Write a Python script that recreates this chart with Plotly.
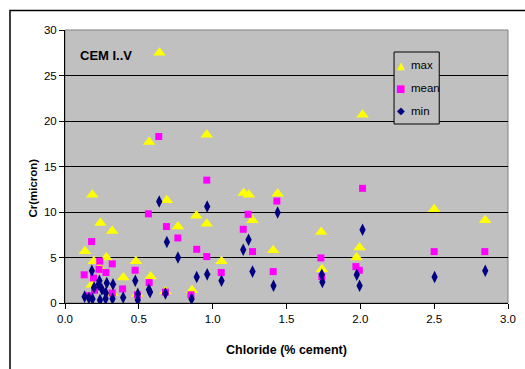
import plotly.graph_objects as go

# ---- data ----
max_x = [0.64, 0.57, 0.96, 2.015, 0.185, 0.24, 0.32, 0.135, 0.195, 0.28, 0.48, 0.395,
         0.69, 0.765, 0.89, 0.96, 1.06, 1.21, 1.245, 1.27, 0.58, 0.86, 0.235, 0.18,
         0.68, 1.44, 1.735, 1.41, 1.995, 1.975, 2.5, 2.845, 1.74, 0.49, 0.32]
max_y = [27.5, 17.7, 18.5, 20.7, 11.9, 8.8, 7.9, 5.7, 4.6, 5.0, 4.6, 2.8,
         11.3, 8.4, 9.6, 8.7, 4.6, 12.1, 11.9, 9.1, 2.9, 1.4, 3.9, 2.0,
         1.3, 12.0, 7.8, 5.8, 6.1, 5.0, 10.3, 9.1, 3.7, 1.0, 1.1]

mean_x = [0.635, 0.96, 2.015, 0.18, 0.565, 0.687, 0.764, 0.892, 0.96, 1.207, 1.24, 1.27,
          0.13, 0.235, 0.277, 0.32, 0.475, 0.39, 0.57, 0.68, 0.853, 1.058, 0.193, 0.49,
          0.32, 0.23, 0.155, 0.2, 1.435, 1.733, 1.41, 1.97, 1.993, 2.5, 2.843, 1.739]
mean_y = [18.3, 13.5, 12.6, 6.75, 9.8, 8.4, 7.15, 5.9, 5.1, 8.1, 9.75, 5.65,
          3.1, 4.6, 3.35, 4.3, 3.6, 1.55, 2.25, 1.2, 0.9, 3.35, 2.75, 0.9,
          1.1, 3.7, 0.8, 1.4, 11.2, 4.95, 3.45, 4.0, 3.6, 5.65, 5.65, 2.9]

min_x = [0.638, 0.963, 0.69, 0.765, 0.892, 0.963, 1.06, 1.207, 1.243, 1.27, 0.182, 0.233,
         0.283, 0.325, 0.197, 0.25, 0.476, 0.568, 0.576, 0.68, 0.394, 0.322, 0.133, 0.162,
         0.186, 0.237, 0.275, 0.493, 0.493, 0.857, 0.228, 0.277, 1.44, 2.015, 1.739, 1.743,
         1.976, 1.995, 1.412, 2.503, 2.846]
min_y = [11.15, 10.6, 6.7, 5.0, 2.85, 3.15, 2.45, 5.85, 6.95, 3.45, 3.55, 2.45,
         2.2, 2.05, 1.7, 1.5, 2.45, 1.45, 1.2, 1.05, 0.6, 0.47, 0.7, 0.55,
         0.45, 0.32, 0.47, 1.0, 0.32, 0.45, 2.05, 1.1, 9.95, 8.05, 3.1, 2.3,
         3.1, 1.9, 1.9, 2.85, 3.55]

series_names = ["max", "mean", "min"]
x_ticks = [0.0, 0.5, 1.0, 1.5, 2.0, 2.5, 3.0]
y_ticks = [0, 5, 10, 15, 20, 25, 30]

# ---- layout constants ----
W, H = 525, 369
L, R, T, B = 65, 9, 30, 66
PW, PH = W - L - R, H - T - B
FONT = "Liberation Sans, Arial, sans-serif"

def px(xp):
    return (xp - L) / PW

def py(yp):
    return (H - B - yp) / PH

YELLOW, MAGENTA, NAVY = "#FFFF00", "#FF00FF", "#000080"

fig = go.Figure()
fig.add_trace(go.Scatter(x=max_x, y=max_y, mode="markers", name=series_names[0],
                         marker=dict(symbol="triangle-up", size=11, color=YELLOW,
                                     line=dict(width=0))))
fig.add_trace(go.Scatter(x=mean_x, y=mean_y, mode="markers", name=series_names[1],
                         marker=dict(symbol="square", size=7, color=MAGENTA,
                                     line=dict(width=0))))
fig.add_trace(go.Scatter(x=min_x, y=min_y, mode="markers", name=series_names[2],
                         marker=dict(symbol="diamond-tall", size=9, color=NAVY,
                                     line=dict(width=0))))

shapes = [
    # plot-area border
    dict(type="rect", xref="paper", yref="paper", x0=0, y0=0, x1=1, y1=1,
         line=dict(color="#808080", width=1), layer="below"),
    # outer chart frame (cut off at right/bottom)
    dict(type="rect", xref="paper", yref="paper", x0=px(9), y0=py(380), x1=px(540), y1=py(10.5),
         line=dict(color="black", width=1.5)),
    # legend box
    dict(type="rect", xref="paper", yref="paper", x0=px(400), y0=py(124), x1=px(446), y1=py(52),
         line=dict(color="black", width=1), fillcolor="#C0C0C0"),
]

annotations = [
    dict(text="<b>CEM I..V</b>", x=px(78), y=py(55), xref="paper", yref="paper",
         xanchor="left", yanchor="middle", showarrow=False,
         font=dict(family=FONT, size=13, color="black")),
    dict(text="<b>Chloride (% cement)</b>", x=px(291), y=py(350), xref="paper", yref="paper",
         xanchor="center", yanchor="middle", showarrow=False,
         font=dict(family=FONT, size=12.5, color="black")),
    dict(text="<b>Cr(micron)</b>", x=px(32), y=py(188), xref="paper", yref="paper",
         xanchor="center", yanchor="middle", textangle=-90, showarrow=False,
         font=dict(family=FONT, size=11.5, color="black")),
]

leg_rows = [(65, "▲", YELLOW, 10), (88, "■", MAGENTA, 10), (111, "◆", NAVY, 10)]
for (yy, sym, col, sz), name in zip(leg_rows, series_names):
    annotations.append(dict(text=sym, x=px(407), y=py(yy), xref="paper", yref="paper",
                            xanchor="center", yanchor="middle", showarrow=False,
                            font=dict(family="DejaVu Sans", size=sz, color=col)))
    annotations.append(dict(text=name, x=px(415), y=py(yy), xref="paper", yref="paper",
                            xanchor="left", yanchor="middle", showarrow=False,
                            font=dict(family=FONT, size=11.5, color="black")))

fig.update_layout(
    width=W, height=H,
    margin=dict(l=L, r=R, t=T, b=B, pad=0),
    paper_bgcolor="white",
    plot_bgcolor="#C0C0C0",
    showlegend=False,
    font=dict(family=FONT, size=11.5, color="black"),
    shapes=shapes,
    annotations=annotations,
    xaxis=dict(range=[0, 3], tickvals=x_ticks, ticktext=[f"{v:.1f}" for v in x_ticks],
               showgrid=False, zeroline=False, showline=True, linecolor="black", linewidth=1,
               ticks="outside", ticklen=5, tickcolor="black", tickfont=dict(size=11.5),
               fixedrange=True),
    yaxis=dict(range=[0, 30], tickvals=y_ticks, ticktext=[str(v) for v in y_ticks],
               showgrid=True, gridcolor="black", gridwidth=1, zeroline=False,
               showline=True, linecolor="black", linewidth=1,
               ticks="outside", ticklen=5, tickcolor="black", tickfont=dict(size=11.5),
               fixedrange=True),
)

fig.write_html("out.html", config={"displayModeBar": False},
               post_script="document.body.style.margin='0';document.body.style.overflow='hidden';")
